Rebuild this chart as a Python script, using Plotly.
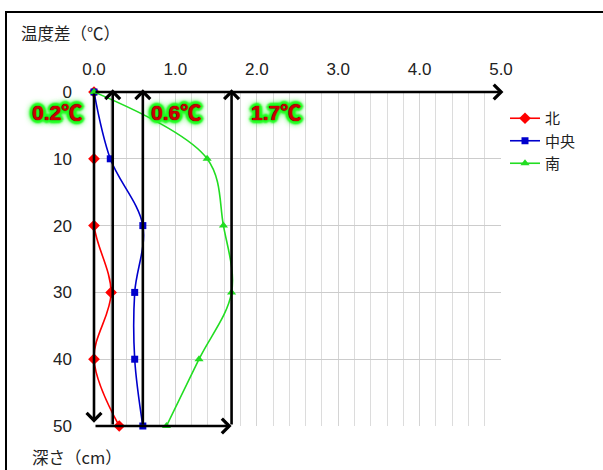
import plotly.graph_objects as go

# ---- data ----
depth = [0, 10, 20, 30, 40, 50]
north = [0.0, 0.0, 0.0, 0.21, 0.0, 0.31]
center = [0.0, 0.2, 0.6, 0.5, 0.5, 0.6]
south = [0.0, 1.39, 1.59, 1.69, 1.29, 0.89]
series_names = ["北", "中央", "南"]
x_ticks = [0, 1, 2, 3, 4, 5]
x_tick_labels = ["0.0", "1.0", "2.0", "3.0", "4.0", "5.0"]
y_ticks = [0, 10, 20, 30, 40, 50]
max_lines = [0.23, 0.6, 1.69]          # vertical marker arrows
max_labels = ["0.2℃", "0.6℃", "1.7℃"]

# ---- layout geometry (pixels) ----
W, H = 603, 470
L, R, T, B = 94, 102, 92, 44
PW, PH = W - L - R, H - T - B


def px_x(p):
    return (p - L) / PW


def px_y(p):
    return (H - B - p) / PH


fig = go.Figure()
styles = [
    ("#ff0000", "diamond", 9),
    ("#0000cc", "square", 7),
    ("#22dd22", "triangle-up", 8),
]
for name, xs, (col, sym, sz) in zip(series_names, [north, center, south], styles):
    fig.add_trace(go.Scatter(
        x=xs, y=depth, mode="lines+markers", name=name,
        line=dict(color=col, width=1.6, shape="spline", smoothing=1),
        marker=dict(symbol=sym, size=sz, color=col),
        cliponaxis=False,
    ))

annotations = []
arrow_common = dict(showarrow=True, text="", xref="x", yref="y", axref="x", ayref="y",
                    arrowcolor="black", arrowwidth=2.6, arrowhead=4, arrowsize=1.1,
                    standoff=0, startstandoff=0)
# top horizontal arrow (along depth 0)
annotations.append(dict(x=x_ticks[-1] + 0.03, y=depth[0], ax=0, ay=depth[0], **arrow_common))
# left vertical arrow downward
annotations.append(dict(x=0, y=depth[-1] - 0.5, ax=0, ay=depth[0], **arrow_common))
# bottom horizontal arrow
annotations.append(dict(x=max_lines[-1], y=depth[-1], ax=0, ay=depth[-1], **arrow_common))
# vertical up arrows at max values
for mx in max_lines:
    annotations.append(dict(x=mx, y=depth[0] - 0.4, ax=mx, ay=depth[-1], **arrow_common))

# labels with green glow
label_px = [57, 176, 276]
g = "#22ff22"
glow = ", ".join(
    ["0 0 1px #600000", "0 0 1px #600000"]
    + [f"{dx}px {dy}px 2px {g}" for dx, dy in
       [(2, 0), (-2, 0), (0, 2), (0, -2), (2, 2), (-2, -2), (2, -2), (-2, 2),
        (3, 0), (-3, 0), (0, 3), (0, -3)]]
    + [f"0 0 6px {g}", f"0 0 7px {g}", f"0 0 8px #00dd00"]
)
for lab, lx in zip(max_labels, label_px):
    annotations.append(dict(
        x=px_x(lx), y=px_y(112), xref="paper", yref="paper", text="<b>" + lab + "</b>",
        showarrow=False, xanchor="center", yanchor="middle",
        font=dict(family="Liberation Sans, Arial, Noto Sans CJK JP", size=21, color="#cc0000",
                  shadow=glow),
    ))

# axis titles
annotations.append(dict(x=px_x(19), y=px_y(33), xref="paper", yref="paper", text="温度差（℃）",
                        showarrow=False, xanchor="left", yanchor="middle",
                        font=dict(family="Noto Sans CJK JP", size=16.5, color="#222222")))
annotations.append(dict(x=px_x(30), y=px_y(457), xref="paper", yref="paper", text="深さ（cm）",
                        showarrow=False, xanchor="left", yanchor="middle",
                        font=dict(family="Noto Sans CJK JP", size=16.5, color="#222222")))

shapes = [dict(type="rect", xref="paper", yref="paper",
               x0=px_x(6), x1=px_x(640), y0=px_y(12), y1=px_y(500),
               line=dict(color="black", width=2), fillcolor="rgba(0,0,0,0)")]

fig.update_layout(
    width=W, height=H,
    margin=dict(l=L, r=R, t=T, b=B),
    paper_bgcolor="white", plot_bgcolor="white",
    font=dict(family="Liberation Sans, Arial, Noto Sans CJK JP", size=17, color="#222222"),
    xaxis=dict(range=[0, 5], side="top", tickvals=x_ticks, ticktext=x_tick_labels,
               showgrid=True, gridcolor="#d4d4d4", gridwidth=1, zeroline=False,
               showline=False, ticks="", ticklabelstandoff=13,
               minor=dict(dtick=0.2, showgrid=True, gridcolor="#dcdcdc", gridwidth=1),
               tickfont=dict(size=17)),
    yaxis=dict(range=[50, 0], tickvals=y_ticks, showgrid=True, gridcolor="#cccccc",
               gridwidth=1, zeroline=False, showline=False, ticks="", ticklabelstandoff=21,
               tickfont=dict(size=17)),
    legend=dict(x=px_x(505), y=px_y(141), xanchor="left", yanchor="middle",
                font=dict(family="Noto Sans CJK JP", size=15, color="#222222"),
                bgcolor="rgba(0,0,0,0)", itemwidth=30, tracegroupgap=0),
    annotations=annotations,
    shapes=shapes,
    showlegend=True,
)

fig.write_html("out.html", config={"displayModeBar": False},
               post_script="document.body.style.margin='0';")
